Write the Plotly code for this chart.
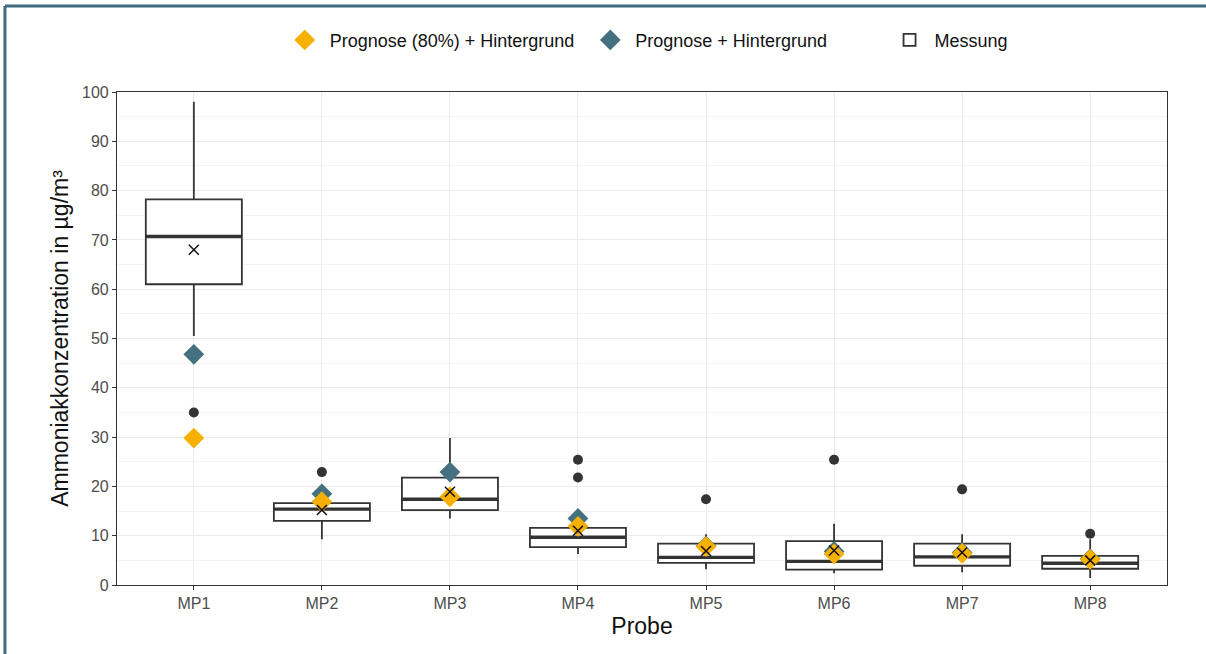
import plotly.graph_objects as go

categories = ["MP1", "MP2", "MP3", "MP4", "MP5", "MP6", "MP7", "MP8"]
q1 = [61.0, 13.0, 15.2, 7.7, 4.5, 3.1, 3.9, 3.3]
median = [70.7, 15.4, 17.4, 9.7, 5.6, 4.8, 5.7, 4.4]
q3 = [78.2, 16.6, 21.8, 11.6, 8.4, 8.9, 8.4, 5.9]
lower_whisker = [50.5, 9.3, 13.5, 6.3, 3.2, 2.4, 2.6, 1.4]
upper_whisker = [98.0, 16.6, 29.8, 11.6, 10.3, 12.4, 10.3, 9.3]
mean_meas = [68.0, 15.2, 18.9, 11.0, 6.9, 7.0, 6.6, 5.0]
outlier_cat = ["MP1", "MP2", "MP4", "MP4", "MP5", "MP6", "MP7", "MP8"]
outlier_val = [35.0, 22.9, 25.4, 21.8, 17.4, 25.4, 19.4, 10.4]
prog80 = [29.8, 16.9, 17.9, 11.9, 7.8, 6.3, 6.4, 5.2]
prog = [46.8, 18.5, 22.9, 13.5, 7.9, 6.8, 6.6, 5.3]

pos = {c: i + 1 for i, c in enumerate(categories)}
xs = [pos[c] for c in categories]
box_w = 0.75

YEL = "#F5B000"
BLU = "#44707F"
DARK = "#333333"

fig = go.Figure()

fig.add_trace(go.Box(
    x=xs, q1=q1, median=median, q3=q3,
    lowerfence=lower_whisker, upperfence=upper_whisker,
    boxpoints=False, width=box_w, whiskerwidth=0,
    fillcolor="white", line=dict(color=DARK, width=1.8),
    name="Messung", legend="legend3", hoverinfo="skip",
))

mx, my = [], []
for x, m in zip(xs, median):
    mx += [x - box_w / 2, x + box_w / 2, None]
    my += [m, m, None]
fig.add_trace(go.Scatter(x=mx, y=my, mode="lines", line=dict(color=DARK, width=3.4),
                         showlegend=False, hoverinfo="skip"))

fig.add_trace(go.Scatter(x=[pos[c] for c in outlier_cat], y=outlier_val, mode="markers",
                         marker=dict(color=DARK, size=10), showlegend=False, hoverinfo="skip"))

fig.add_trace(go.Scatter(x=xs, y=prog, mode="markers", name="Prognose + Hintergrund",
                         marker=dict(symbol="diamond", color=BLU, size=16), legend="legend2"))
fig.add_trace(go.Scatter(x=xs, y=prog80, mode="markers", name="Prognose (80%) + Hintergrund",
                         marker=dict(symbol="diamond", color=YEL, size=16), legend="legend"))

fig.add_trace(go.Scatter(x=xs, y=mean_meas, mode="markers",
                         marker=dict(symbol="x-thin", size=10, line=dict(color="#111111", width=1.5)),
                         showlegend=False, hoverinfo="skip"))

# outer frame lines (top and left)
fig.add_shape(type="line", xref="paper", yref="paper", x0=-0.1067, x1=1.04, y0=1.1745, y1=1.1745,
              line=dict(color="#3F6B80", width=3))
fig.add_shape(type="line", xref="paper", yref="paper", x0=-0.1067, x1=-0.1067, y0=1.1745, y1=-0.15,
              line=dict(color="#3F6B80", width=3))

leg_common = dict(orientation="h", y=1.105, yanchor="middle", xanchor="left",
                  font=dict(size=18, color="#111111"), itemwidth=40, bgcolor="rgba(0,0,0,0)")
fig.update_layout(
    width=1206, height=654,
    margin=dict(l=117, r=39, t=92, b=69),
    paper_bgcolor="white", plot_bgcolor="white",
    font=dict(family="Liberation Sans, Arial, sans-serif", color="#222222"),
    legend=dict(x=0.155, **leg_common),
    legend2=dict(x=0.446, **leg_common),
    legend3=dict(x=0.731, **leg_common),
    showlegend=True,
)
fig.update_xaxes(
    range=[0.4, 8.6], tickmode="array", tickvals=xs, ticktext=categories,
    showgrid=True, gridcolor="#EBEBEB", gridwidth=1.2,
    showline=True, linecolor="#333333", linewidth=1.2, mirror=True,
    ticks="outside", ticklen=4, tickcolor="#333333",
    tickfont=dict(size=16, color="#4D4D4D"),
    title=dict(text="Probe", font=dict(size=23, color="#111111"), standoff=6),
    zeroline=False,
)
fig.update_yaxes(
    range=[0, 100], tickmode="linear", tick0=0, dtick=10,
    showgrid=True, gridcolor="#EBEBEB", gridwidth=1.2,
    minor=dict(dtick=5, showgrid=True, gridcolor="#F4F4F4", gridwidth=1),
    showline=True, linecolor="#333333", linewidth=1.2, mirror=True,
    ticks="outside", ticklen=4, tickcolor="#333333",
    tickfont=dict(size=16, color="#4D4D4D"),
    title=dict(text="Ammoniakkonzentration in µg/m³", font=dict(size=23, color="#111111"), standoff=6),
    zeroline=False,
)

fig.write_html("out.html", config={"displayModeBar": False},
               post_script="document.body.style.margin='0px';document.body.style.overflow='hidden';")
